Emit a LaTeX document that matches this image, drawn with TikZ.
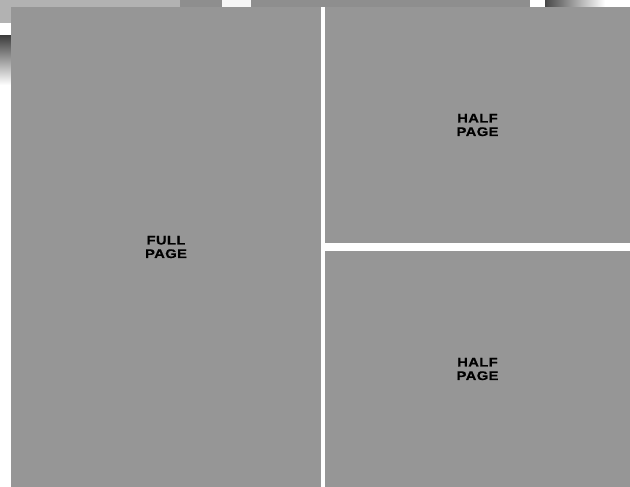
\documentclass[tikz,border=0pt]{standalone}
\usepackage{fontspec}
\newfontfamily\labelfont{Liberation Sans}[FakeStretch=1.18, LetterSpace=3, FakeBold=0.6]
\definecolor{pagegray}{RGB}{150,150,150}
\definecolor{stripgray}{RGB}{142,142,142}
\definecolor{lightstrip}{RGB}{178,178,178}
\definecolor{paper}{RGB}{246,246,246}
\begin{document}
\begin{tikzpicture}[
    x=1pt,
    y=-1pt,
    page/.style={
        fill=pagegray,
        inner sep=0pt,
        align=center,
        font=\labelfont\bfseries\fontsize{12.5}{13.5}\selectfont
    },
    halfpage/.style={
        page,
        minimum width=305pt,
        minimum height=236pt
    }
]
\useasboundingbox (0,0) rectangle (630,487);

% scraps of the sheet behind
\fill[white] (0,0) rectangle (630,487);
\fill[lightstrip] (0,0) rectangle (180,7);
\fill[lightstrip] (0,0) rectangle (11,23);
\fill[stripgray] (180,0) rectangle (222,7);
\fill[paper] (222,0) rectangle (251,7);
\fill[stripgray] (251,0) rectangle (530,7);
\shade[left color=black!72, right color=white] (545,0) rectangle (605,7);
\shade[top color=black!75, bottom color=white] (0,36) rectangle (11,85);

\node[page, minimum width=310pt, minimum height=480pt] (full) at (166,247) {FULL\\PAGE};
\node[halfpage] (tophalf) at (477.5,125) {HALF\\PAGE};
\node[halfpage] (bottomhalf) at (477.5,369) {HALF\\PAGE};

\end{tikzpicture}
\end{document}
